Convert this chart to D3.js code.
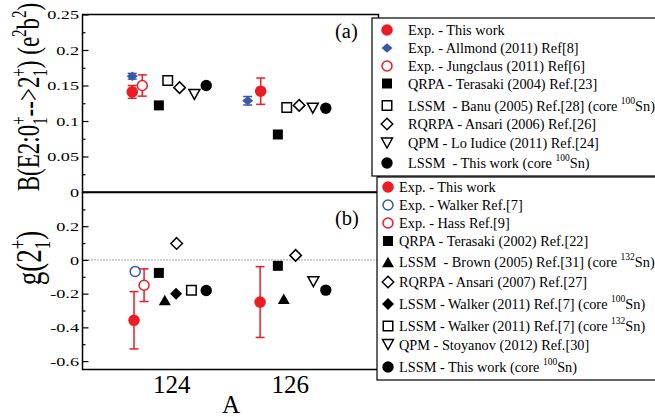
<!DOCTYPE html>
<html><head><meta charset="utf-8">
<script src="https://cdn.jsdelivr.net/npm/d3@7"></script>
<style>
html,body{margin:0;padding:0;background:#fff;}
svg{display:block;font-family:"Liberation Serif","Times New Roman",serif;}
text{white-space:pre;}
</style></head><body>
<svg id="chart" width="655" height="417"></svg>
<script>
// ---------------- data ----------------
const xTicks = [124, 126];
const yTicksA = [0, 0.05, 0.1, 0.15, 0.2, 0.25];
const yTickLabelsA = ["0", "0.05", "0.1", "0.15", "0.2", "0.25"];
const yMinorA = [0.025, 0.075, 0.125, 0.175, 0.225];
const yTicksB = [-0.6, -0.4, -0.2, 0, 0.2];
const yTickLabelsB = ["-0.6", "-0.4", "-0.2", "0", "0.2"];
const yMinorB = [-0.5, -0.3, -0.1, 0.1, 0.3];

// panel (a): B(E2) values  [A, value, error]
const a_expThisWork  = [[123.34, 0.141, 0.009], [125.51, 0.142, 0.0185]];
const a_allmond      = [[123.34, 0.163, 0.004], [125.29, 0.1285, 0.006]];
const a_jungclaus    = [[123.51, 0.150, 0.015]];
const a_qrpaTerasaki = [[123.79, 0.122], [125.80, 0.081]];
const a_lssmBanu     = [[123.94, 0.157], [125.95, 0.119]];
const a_rqrpaAnsari  = [[124.14, 0.147], [126.16, 0.122]];
const a_qpmLoIudice  = [[124.39, 0.1375], [126.39, 0.118]];
const a_lssmThisWork = [[124.59, 0.150], [126.61, 0.118]];

// panel (b): g(2+) values  [A, value, error]
const b_expThisWork   = [[123.37, -0.358, 0.17], [125.50, -0.25, 0.21]];
const b_walker        = [[123.39, -0.068, 0.012]];
const b_hass          = [[123.54, -0.15, 0.097]];
const b_qrpaTerasaki  = [[123.79, -0.077], [125.80, -0.035]];
const b_lssmBrown     = [[123.89, -0.237], [125.90, -0.231]];
const b_rqrpaAnsari   = [[124.09, 0.098], [126.10, 0.027]];
const b_lssmWalker100 = [[124.08, -0.201]];
const b_lssmWalker132 = [[124.34, -0.18]];
const b_qpmStoyanov   = [[126.40, -0.129]];
const b_lssmThisWork  = [[124.59, -0.181], [126.61, -0.179]];

const legendA = [
  "Exp. - This work",
  "Exp. - Allmond (2011) Ref[8]",
  "Exp. - Jungclaus (2011) Ref[6]",
  "QRPA - Terasaki (2004) Ref.[23]",
  "LSSM  - Banu (2005) Ref.[28] (core ^100^Sn)",
  "RQRPA - Ansari (2006) Ref.[26]",
  "QPM - Lo Iudice (2011) Ref.[24]",
  "LSSM  - This work (core ^100^Sn)"
];
const legendB = [
  "Exp. - This work",
  "Exp. - Walker Ref.[7]",
  "Exp. - Hass Ref.[9]",
  "QRPA - Terasaki (2002) Ref.[22]",
  "LSSM  - Brown (2005) Ref.[31] (core ^132^Sn)",
  "RQRPA - Ansari (2007) Ref.[27]",
  "LSSM - Walker (2011) Ref.[7] (core ^100^Sn)",
  "LSSM - Walker (2011) Ref.[7] (core ^132^Sn)",
  "QPM - Stoyanov (2012) Ref.[30]",
  "LSSM - This work (core ^100^Sn)"
];

// ---------------- styles ----------------
const RED = "#ec1c24", BLUE = "#3a58a8";
const ST = {
  expRed:   {shape: "circle", r: 5.8, fill: RED, stroke: "none"},
  allmond:  {shape: "diamond", w: 11, h: 9.5, fill: BLUE, stroke: "none"},
  openRed:  {shape: "circle", r: 5, fill: "#fff", stroke: RED},
  openBlue: {shape: "circle", r: 5, fill: "#fff", stroke: BLUE},
  sqFill:   {shape: "square", s: 10, fill: "#000", stroke: "none"},
  sqOpen:   {shape: "square", s: 9.5, fill: "#fff", stroke: "#000"},
  diaOpen:  {shape: "diamond", w: 11.5, h: 11.5, fill: "#fff", stroke: "#000"},
  diaFill:  {shape: "diamond", w: 12, h: 12, fill: "#000", stroke: "none"},
  triDown:  {shape: "triDown", w: 11, h: 10, fill: "#fff", stroke: "#000"},
  triUp:    {shape: "triUp", w: 12, h: 10.5, fill: "#000", stroke: "none"},
  dotBlack: {shape: "circle", r: 5.7, fill: "#000", stroke: "none"}
};
function symPath(st) {
  switch (st.shape) {
    case "circle": { const r = st.r; return `M${r},0A${r},${r} 0 1,1 ${-r},0A${r},${r} 0 1,1 ${r},0Z`; }
    case "square": { const h = st.s / 2; return `M${-h},${-h}H${h}V${h}H${-h}Z`; }
    case "diamond": { const w = st.w / 2, h = st.h / 2; return `M0,${-h}L${w},0L0,${h}L${-w},0Z`; }
    case "triUp": { const w = st.w / 2, h = st.h / 2; return `M0,${-h}L${w},${h}L${-w},${h}Z`; }
    case "triDown": { const w = st.w / 2, h = st.h / 2; return `M0,${h}L${w},${-h}L${-w},${-h}Z`; }
  }
}

// ---------------- scales ----------------
const svg = d3.select("#chart");
const X  = d3.scaleLinear().domain([122.5, 127.5]).range([82.5, 378.5]);
const YA = d3.scaleLinear().domain([0, 0.25]).range([192, 14.5]);
const YB = d3.scaleLinear().domain([-0.65, 0.4]).range([369.5, 192.5]);

// zero dotted line (b)
svg.append("line").attr("x1", X(122.5)).attr("x2", X(127.5))
  .attr("y1", YB(0)).attr("y2", YB(0))
  .attr("stroke", "#444").attr("stroke-width", 1).attr("stroke-dasharray", "1,2");

// ticks
function ticks(scale, vals, size) {
  const g = svg.append("g").attr("transform", `translate(${X(122.5)},0)`)
    .call(d3.axisLeft(scale).tickValues(vals).tickSize(-size).tickFormat(""));
  g.select(".domain").remove();
  g.selectAll("line").attr("stroke", "#000").attr("stroke-width", 1.2);
}
ticks(YA, yTicksA, 6); ticks(YA, yMinorA, 3);
ticks(YB, yTicksB, 6); ticks(YB, yMinorB, 3);

// tick labels (horizontally stretched like the reference)
function tickLabels(scale, vals, labels) {
  svg.append("g").selectAll("text").data(vals).join("text")
    .attr("transform", d => `translate(79,${scale(d)}) scale(1.35,1)`)
    .attr("text-anchor", "end").attr("dy", "0.35em")
    .attr("font-size", 13.5).text((d, i) => labels[i]);
}
tickLabels(YA, yTicksA, yTickLabelsA);
tickLabels(YB, yTicksB, yTickLabelsB);

// frames
const fr = svg.append("g").attr("fill", "none").attr("stroke", "#000").attr("stroke-width", 1.5);
fr.append("rect").attr("x", X(122.5)).attr("y", YA(0.25)).attr("width", X(127.5) - X(122.5)).attr("height", YA(0) - YA(0.25));
fr.append("rect").attr("x", X(122.5)).attr("y", YB(0.4)).attr("width", X(127.5) - X(122.5)).attr("height", YB(-0.65) - YB(0.4));

// x axis labels
const xg = svg.append("g").attr("transform", `translate(0,${YB(-0.65)})`)
  .call(d3.axisBottom(X).tickValues(xTicks).tickSize(0).tickFormat(d3.format("d")));
xg.select(".domain").remove();
xg.selectAll("text").attr("y", 23).attr("dy", 0).attr("font-size", 25)
  .attr("font-family", "Liberation Serif").attr("fill", "#000");
svg.append("text").attr("x", 231).attr("y", 413).attr("text-anchor", "middle")
  .attr("font-size", 25).text("A");

// panel tags
svg.append("text").attr("x", 335).attr("y", 38).attr("font-size", 20.5).text("(a)");
svg.append("text").attr("x", 335).attr("y", 224.5).attr("font-size", 20.5).text("(b)");

// y titles
function richText(sel, parts, base, small, subOff, supOff) {
  let cur = 0;
  parts.forEach(p => {
    const target = p.k === "sub" ? subOff : p.k === "sup" ? supOff : 0;
    const ts = sel.append("tspan").text(p.t).attr("dy", target - cur)
      .attr("font-size", p.k ? small : base);
    if (p.back) ts.attr("dx", -p.back);
    cur = target;
  });
}
const tA = svg.append("text").attr("text-anchor", "middle")
  .attr("transform", "translate(39,97) scale(1.35,1) rotate(-90)");
richText(tA, [
  {t: "B(E2:0"}, {t: "1", k: "sub"}, {t: "+", k: "sup", back: 7.5},
  {t: "-->2"}, {t: "1", k: "sub"}, {t: "+", k: "sup", back: 7.5},
  {t: ") (e"}, {t: "2", k: "sup"}, {t: "b"}, {t: "2", k: "sup"}, {t: ")"}
], 23, 15, 6, -10);
const tB = svg.append("text").attr("text-anchor", "middle")
  .attr("transform", "translate(41,258) scale(1.3,1) rotate(-90)");
richText(tB, [
  {t: "g(2"}, {t: "1", k: "sub"}, {t: "+", k: "sup", back: 8.5}, {t: ")"}
], 27, 17, 7, -12);

// data marks
function series(data, yScale, st, color) {
  const g = svg.append("g");
  const withErr = data.filter(d => d.length > 2);
  const eg = g.selectAll("g.err").data(withErr).join("g")
    .attr("stroke", color).attr("stroke-width", 1.5);
  eg.append("line").attr("x1", d => X(d[0])).attr("x2", d => X(d[0]))
    .attr("y1", d => yScale(d[1] - d[2])).attr("y2", d => yScale(d[1] + d[2]));
  [1, -1].forEach(sgn => eg.append("line")
    .attr("x1", d => X(d[0]) - 4.5).attr("x2", d => X(d[0]) + 4.5)
    .attr("y1", d => yScale(d[1] + sgn * d[2])).attr("y2", d => yScale(d[1] + sgn * d[2])));
  g.selectAll("path.m").data(data).join("path")
    .attr("transform", d => `translate(${X(d[0])},${yScale(d[1])})`)
    .attr("d", symPath(st)).attr("fill", st.fill).attr("stroke", st.stroke)
    .attr("stroke-width", 1.5);
}
series(a_expThisWork, YA, ST.expRed, RED);
series(a_allmond, YA, ST.allmond, BLUE);
series(a_jungclaus, YA, ST.openRed, RED);
series(a_qrpaTerasaki, YA, ST.sqFill, "#000");
series(a_lssmBanu, YA, ST.sqOpen, "#000");
series(a_rqrpaAnsari, YA, ST.diaOpen, "#000");
series(a_qpmLoIudice, YA, ST.triDown, "#000");
series(a_lssmThisWork, YA, ST.dotBlack, "#000");

series(b_expThisWork, YB, ST.expRed, RED);
series(b_walker, YB, ST.openBlue, BLUE);
series(b_hass, YB, ST.openRed, RED);
series(b_qrpaTerasaki, YB, ST.sqFill, "#000");
series(b_lssmBrown, YB, ST.triUp, "#000");
series(b_rqrpaAnsari, YB, ST.diaOpen, "#000");
series(b_lssmWalker100, YB, ST.diaFill, "#000");
series(b_lssmWalker132, YB, ST.sqOpen, "#000");
series(b_qpmStoyanov, YB, ST.triDown, "#000");
series(b_lssmThisWork, YB, ST.dotBlack, "#000");

// legends
function legend(box, labels, styles, rowsY, mx, tx, fs) {
  const g = svg.append("g");
  g.append("rect").attr("x", box[0]).attr("y", box[1]).attr("width", box[2]).attr("height", box[3])
    .attr("fill", "#fff").attr("stroke", "#000").attr("stroke-width", 1.2);
  labels.forEach((lab, i) => {
    const st = styles[i];
    g.append("path").attr("transform", `translate(${mx},${rowsY[i]})`)
      .attr("d", symPath(st)).attr("fill", st.fill).attr("stroke", st.stroke).attr("stroke-width", 1.5);
    const t = g.append("text").attr("x", tx).attr("y", rowsY[i] + 5).attr("font-size", fs);
    let sup = false;
    lab.split("^").forEach((seg, k) => {
      if (!seg) return;
      const isSup = k % 2 === 1;
      const ts = t.append("tspan").text(seg).attr("font-size", isSup ? 9.5 : fs);
      if (isSup !== sup) ts.attr("dy", isSup ? -7 : 7);
      sup = isSup;
    });
  });
}
legend([372, 18, 300, 158], legendA,
  [ST.expRed, ST.allmond, ST.openRed, ST.sqFill, ST.sqOpen, ST.diaOpen, ST.triDown, ST.dotBlack],
  [30, 48, 66, 83.5, 105.5, 124, 143, 163], 387, 408, 14.3);
legend([377, 177, 300, 203], legendB,
  [ST.expRed, ST.openBlue, ST.openRed, ST.sqFill, ST.triUp, ST.diaOpen, ST.diaFill, ST.sqOpen, ST.triDown, ST.dotBlack],
  [187, 205, 223, 241, 262, 282, 304, 326, 344.5, 367], 388, 399, 14.3);
</script>
</body></html>
